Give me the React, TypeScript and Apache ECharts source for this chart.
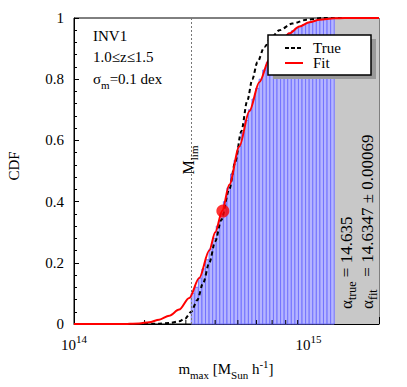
import React, { useEffect, useRef } from "react";
import * as echarts from "echarts";

// Fit (red) CDF curve: log10 mass and CDF
const fitLogM = [14.0, 14.2, 14.2778, 14.3205, 14.3632, 14.406, 14.4487, 14.4915, 14.5342, 14.5769, 14.6026, 14.6325, 14.6624, 14.7051, 14.7479, 14.7906, 14.8333, 14.8761, 14.9188, 14.9615, 15.0043, 15.047, 15.1111, 15.1538, 15.30103];
const fitCdf = [0, 0, 0.002, 0.006, 0.014, 0.027, 0.047, 0.085, 0.15, 0.24, 0.3, 0.37, 0.455, 0.58, 0.695, 0.79, 0.865, 0.915, 0.95, 0.972, 0.986, 0.994, 0.999, 1.0, 1.0];

// True (black dashed) CDF curve
const trueLogM = [14.0, 14.25, 14.3632, 14.406, 14.4487, 14.4744, 14.5, 14.5256, 14.5513, 14.5769, 14.6026, 14.6282, 14.6624, 14.688, 14.7137, 14.7393, 14.7607, 14.7821, 14.812, 14.8419, 14.8761, 14.9316, 14.9915, 15.0598, 15.30103];
const trueCdf = [0, 0, 0.001, 0.003, 0.009, 0.018, 0.04, 0.078, 0.135, 0.2, 0.27, 0.34, 0.44, 0.53, 0.63, 0.73, 0.8, 0.855, 0.905, 0.937, 0.96, 0.982, 0.994, 1.0, 1.0];

// Empirical CDF histogram (log bins between these edges)
const histStartLog = 14.5;
const histEndLog = 15.11;
const histCdf = [0.1, 0.12, 0.15, 0.18, 0.21, 0.245, 0.28, 0.32, 0.36, 0.4, 0.445, 0.49, 0.535, 0.58, 0.625, 0.665, 0.7, 0.735, 0.77, 0.8, 0.83, 0.855, 0.875, 0.895, 0.91, 0.925, 0.94, 0.95, 0.958, 0.966, 0.972, 0.978, 0.983, 0.987, 0.99, 0.993, 0.995, 0.997, 0.998, 1.0];

// Markers
const mLimLog = 14.5;
const alphaTrue = 14.635;
const alphaPointCdf = 0.369;
const grayStartLog = 15.11;
const xMin = 1e14;
const xMax = 2e15;
const xMinorTicks = [2e14, 3e14, 4e14, 5e14, 6e14, 7e14, 8e14, 9e14];
const yTicks = [0, 0.2, 0.4, 0.6, 0.8, 1];

const FONT = "Liberation Serif";

export default function App() {
  const ref = useRef<HTMLDivElement>(null);
  useEffect(() => {
    if (!ref.current) return;
    const chart = echarts.init(ref.current, undefined, { renderer: "svg" });
    const n = histCdf.length;
    const w = (histEndLog - histStartLog) / n;
    const histData = histCdf.map((v, i) => [
      Math.pow(10, histStartLog + i * w),
      Math.pow(10, histStartLog + (i + 1) * w),
      v,
    ]);
    const fitData = fitLogM.map((l, i) => [Math.pow(10, l), fitCdf[i]]);
    const trueData = trueLogM.map((l, i) => [Math.pow(10, l), trueCdf[i]]);

    const sub = { fontSize: 11, fontFamily: FONT, color: "#000", verticalAlign: "bottom", lineHeight: 12 };
    const sup = { fontSize: 11, fontFamily: FONT, color: "#000", verticalAlign: "top", lineHeight: 12 };
    const base = { fontSize: 15, fontFamily: FONT, color: "#000", lineHeight: 22 };
    const baseL = { fontSize: 17, fontFamily: FONT, color: "#000", lineHeight: 24 };
    const subL = { fontSize: 12, fontFamily: FONT, color: "#000", verticalAlign: "bottom", lineHeight: 13 };
    const baseM = { fontSize: 16, fontFamily: FONT, color: "#000", lineHeight: 23 };

    const option: any = {
      animation: false,
      grid: {
        left: 74,
        right: 28,
        top: 18,
        bottom: 63,
        show: true,
        borderColor: "#000",
        borderWidth: 1,
        backgroundColor: "transparent",
      },
      xAxis: {
        type: "log",
        logBase: 10,
        min: xMin,
        max: xMax,
        splitLine: { show: false },
        axisLine: { lineStyle: { color: "#000", width: 1 } },
        axisTick: { inside: true, length: 7, lineStyle: { color: "#000" } },
        axisLabel: {
          margin: 9,
          formatter: (v: number) => {
            const l = Math.log10(v);
            const e = Math.round(l);
            if (Math.abs(l - e) > 1e-6) return "";
            return `{b|10}{s|${e}}`;
          },
          rich: {
            b: { fontSize: 15, fontFamily: FONT, color: "#000", lineHeight: 24 },
            s: { fontSize: 11, fontFamily: FONT, color: "#000", verticalAlign: "top", lineHeight: 12 },
          },
        },
      },
      yAxis: {
        type: "value",
        min: 0,
        max: 1,
        interval: 0.2,
        splitLine: { show: false },
        axisLine: { lineStyle: { color: "#000", width: 1 } },
        axisTick: { inside: true, length: 5, lineStyle: { color: "#000" } },
        minorTick: { show: true, splitNumber: 5, length: 3, lineStyle: { color: "#000" } },
        axisLabel: {
          margin: 10,
          fontSize: 15,
          fontFamily: FONT,
          color: "#000",
          formatter: (v: number) => (yTicks.some((t) => Math.abs(t - v) < 1e-9) ? String(+v.toFixed(1)) : ""),
        },
      },
      series: [
        {
          type: "line",
          data: [],
          silent: true,
          z: 1,
          markArea: {
            silent: true,
            itemStyle: { color: "#c8c8c8" },
            data: [[{ xAxis: Math.pow(10, grayStartLog) }, { xAxis: xMax }]],
          },
          markLine: {
            silent: true,
            symbol: "none",
            label: { show: false },
            lineStyle: { type: [2, 2], color: "#777", width: 1 },
            data: [{ xAxis: Math.pow(10, mLimLog) }],
          },
        },
        {
          type: "custom",
          z: 2,
          encode: { x: [0, 1], y: 2 },
          data: histData,
          renderItem: (params: any, api: any) => {
            const p0 = api.coord([api.value(0), 0]);
            const p1 = api.coord([api.value(1), api.value(2)]);
            return {
              type: "rect",
              shape: { x: p0[0], y: p1[1], width: p1[0] - p0[0], height: p0[1] - p1[1] },
              style: { fill: "#b5b5ff", stroke: "#7373ff", lineWidth: 1 },
            };
          },
        },
        {
          type: "custom",
          z: 3,
          data: xMinorTicks.map((v) => [v, 0]),
          encode: { x: 0, y: 1 },
          renderItem: (params: any, api: any) => {
            const p = api.coord([api.value(0), 0]);
            return {
              type: "line",
              shape: { x1: p[0], y1: p[1], x2: p[0], y2: p[1] - 4 },
              style: { stroke: "#000", lineWidth: 1 },
            };
          },
        },
        {
          name: "True",
          type: "line",
          data: trueData,
          showSymbol: false,
          smooth: 0.3,
          smoothMonotone: "x",
          z: 4,
          lineStyle: { color: "#000", width: 2, type: [4, 3] },
        },
        {
          name: "Fit",
          type: "line",
          data: fitData,
          showSymbol: false,
          smooth: 0.3,
          smoothMonotone: "x",
          z: 5,
          lineStyle: { color: "#ff0000", width: 2 },
        },
        {
          type: "scatter",
          z: 6,
          data: [[Math.pow(10, alphaTrue), alphaPointCdf]],
          symbolSize: 13,
          itemStyle: { color: "#ff0000" },
        },
      ],
      graphic: [
        { type: "text", x: 93, y: 36, style: { text: "INV1", font: `15px '${FONT}'`, fill: "#000", verticalAlign: "middle" }, z: 10 },
        { type: "text", x: 93, y: 57, style: { text: "1.0≤z≤1.5", font: `15px '${FONT}'`, fill: "#000", verticalAlign: "middle" }, z: 10 },
        {
          type: "text", x: 93, y: 79, z: 10,
          style: { text: "{a|σ}{s|m}{a|=0.1 dex}", verticalAlign: "middle", rich: { a: base, s: sub } },
        },
        {
          type: "text", x: 188, y: 160, rotation: Math.PI / 2, z: 10,
          style: { text: "{a|M}{s|lim}", align: "center", verticalAlign: "middle", rich: { a: baseM, s: sub } },
        },
        {
          type: "text", x: 14, y: 166, rotation: Math.PI / 2, z: 10,
          style: { text: "CDF", font: `15px '${FONT}'`, fill: "#000", align: "center", verticalAlign: "middle" },
        },
        {
          type: "text", x: 226, y: 369, z: 10,
          style: {
            text: "{a|m}{s|max}{a| [M}{s|Sun}{a| h}{p|-1}{a|]}",
            align: "center",
            verticalAlign: "middle",
            rich: { a: base, s: sub, p: sup },
          },
        },
        {
          type: "text", x: 346, y: 309, rotation: Math.PI / 2, z: 10,
          style: { text: "{a|α}{s|true}{a| = 14.635}", align: "left", verticalAlign: "middle", rich: { a: baseL, s: subL } },
        },
        {
          type: "text", x: 367, y: 309, rotation: Math.PI / 2, z: 10,
          style: { text: "{a|α}{s|fit}{a|   = 14.6347 ± 0.00069}", align: "left", verticalAlign: "middle", rich: { a: baseL, s: subL } },
        },
        { type: "rect", z: 20, shape: { x: 273, y: 39, width: 103, height: 40 }, style: { fill: "#999" } },
        { type: "rect", z: 21, shape: { x: 268, y: 35, width: 103, height: 40 }, style: { fill: "#fff", stroke: "#000", lineWidth: 1.5 } },
        { type: "line", z: 22, shape: { x1: 285, y1: 48, x2: 303, y2: 48 }, style: { stroke: "#000", lineWidth: 2, lineDash: [4, 2] } },
        { type: "line", z: 22, shape: { x1: 285, y1: 63, x2: 303, y2: 63 }, style: { stroke: "#ff0000", lineWidth: 2 } },
        { type: "text", z: 22, x: 313, y: 48, style: { text: "True", font: `15px '${FONT}'`, fill: "#000", verticalAlign: "middle" } },
        { type: "text", z: 22, x: 313, y: 63, style: { text: "Fit", font: `15px '${FONT}'`, fill: "#000", verticalAlign: "middle" } },
      ],
    };
    chart.setOption(option);
    return () => chart.dispose();
  }, []);
  return <div ref={ref} style={{ width: 407, height: 387, margin: -8 }} />;
}
